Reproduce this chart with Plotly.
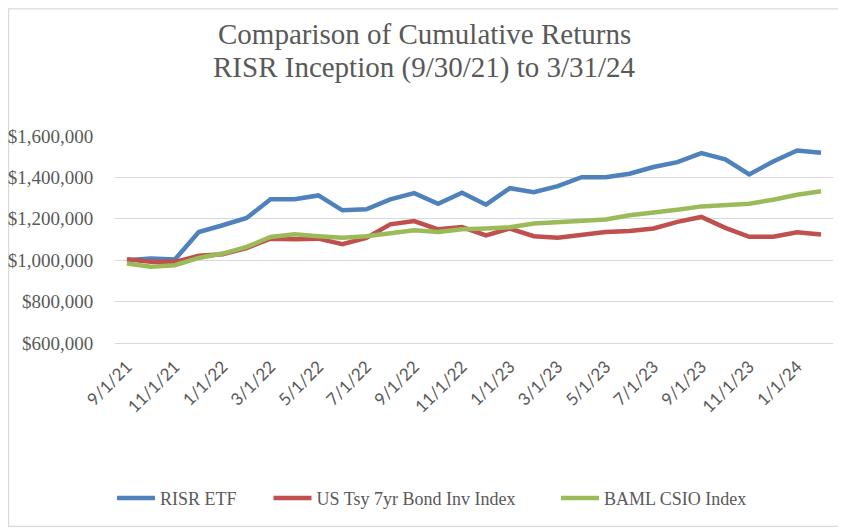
import plotly.graph_objects as go

dates = ["9/1/21", "10/1/21", "11/1/21", "12/1/21", "1/1/22", "2/1/22", "3/1/22", "4/1/22",
         "5/1/22", "6/1/22", "7/1/22", "8/1/22", "9/1/22", "10/1/22", "11/1/22", "12/1/22",
         "1/1/23", "2/1/23", "3/1/23", "4/1/23", "5/1/23", "6/1/23", "7/1/23", "8/1/23",
         "9/1/23", "10/1/23", "11/1/23", "12/1/23", "1/1/24", "2/1/24"]

risr_etf = [1000000, 1008000, 1003000, 1136000, 1169000, 1204000, 1294000, 1294000,
            1313000, 1241000, 1246000, 1294000, 1324000, 1273000, 1326000, 1268000,
            1348000, 1329000, 1358000, 1401000, 1401000, 1418000, 1450000, 1474000,
            1517000, 1487000, 1414000, 1477000, 1530000, 1519000]

us_tsy_7yr = [1005000, 992000, 992000, 1021000, 1029000, 1059000, 1104000, 1101000,
              1104000, 1077000, 1108000, 1173000, 1189000, 1149000, 1160000, 1120000,
              1153000, 1116000, 1108000, 1124000, 1136000, 1141000, 1153000, 1185000,
              1209000, 1156000, 1113000, 1113000, 1135000, 1124000]

baml_csio = [984000, 968000, 976000, 1011000, 1032000, 1064000, 1112000, 1125000,
             1116000, 1109000, 1116000, 1129000, 1145000, 1136000, 1149000, 1153000,
             1159000, 1177000, 1185000, 1189000, 1197000, 1217000, 1228000, 1244000,
             1260000, 1268000, 1273000, 1292000, 1316000, 1333000]

series_names = ["RISR ETF", "US Tsy 7yr Bond Inv Index", "BAML CSIO Index"]
series_colors = ["#4F81BD", "#C0504D", "#9BBB59"]
y_ticks = [600000, 800000, 1000000, 1200000, 1400000, 1600000]
y_tick_text = ["$600,000", "$800,000", "$1,000,000", "$1,200,000", "$1,400,000", "$1,600,000"]
title_lines = ["Comparison of Cumulative Returns", "RISR Inception (9/30/21) to 3/31/24"]

TXT = "#595959"
GRID = "#D9D9D9"
SERIF = "Liberation Serif"
SANS = "Lato"

legend_ids = ["legend", "legend2", "legend3"]
legend_x = [-0.0042, 0.2138, 0.6142]

fig = go.Figure()
for name, vals, col, lid in zip(series_names, [risr_etf, us_tsy_7yr, baml_csio],
                                series_colors, legend_ids):
    fig.add_trace(go.Scatter(x=dates, y=vals, mode="lines", name=name, legend=lid,
                             line=dict(color=col, width=4.5)))

legend_common = dict(orientation="h", y=-0.75, yanchor="middle", xanchor="left",
                     font=dict(family=SERIF, size=18, color=TXT), itemwidth=38,
                     bgcolor="rgba(0,0,0,0)")
layout_legends = {lid: dict(x=lx, **legend_common) for lid, lx in zip(legend_ids, legend_x)}

fig.update_layout(
    width=838, height=520,
    margin=dict(l=107, r=13, t=128, b=185, autoexpand=False),
    paper_bgcolor="white", plot_bgcolor="white",
    showlegend=True,
    xaxis=dict(type="category", range=[-0.5, 29.5], tickmode="linear", tick0=0, dtick=2,
               tickangle=-45, showgrid=False, showline=True, linecolor=GRID, linewidth=1.3,
               ticks="outside", ticklen=6, tickcolor="rgba(0,0,0,0)", automargin=False,
               tickfont=dict(family=SANS, size=17, color=TXT)),
    yaxis=dict(range=[600000, 1600000], tickvals=y_ticks, ticktext=y_tick_text,
               showgrid=True, gridcolor=GRID, gridwidth=1.3, zeroline=False,
               showline=False, ticks="outside", ticklen=17, tickcolor="rgba(0,0,0,0)",
               automargin=False,
               tickfont=dict(family=SERIF, size=19, color=TXT)),
    **layout_legends,
)

for txt, ty in zip(title_lines, [1.494, 1.332]):
    fig.add_annotation(text=txt, xref="paper", yref="paper",
                       x=0.4304, y=ty, xanchor="center", yanchor="middle", showarrow=False,
                       font=dict(family=SERIF, size=29, color=TXT))

fig.add_shape(type="rect", xref="paper", yref="paper", x0=-0.1483, x1=1.0135,
              y0=-0.8855, y1=1.6145, line=dict(color=GRID, width=1.3), layer="below")

fig.write_html("out.html")
